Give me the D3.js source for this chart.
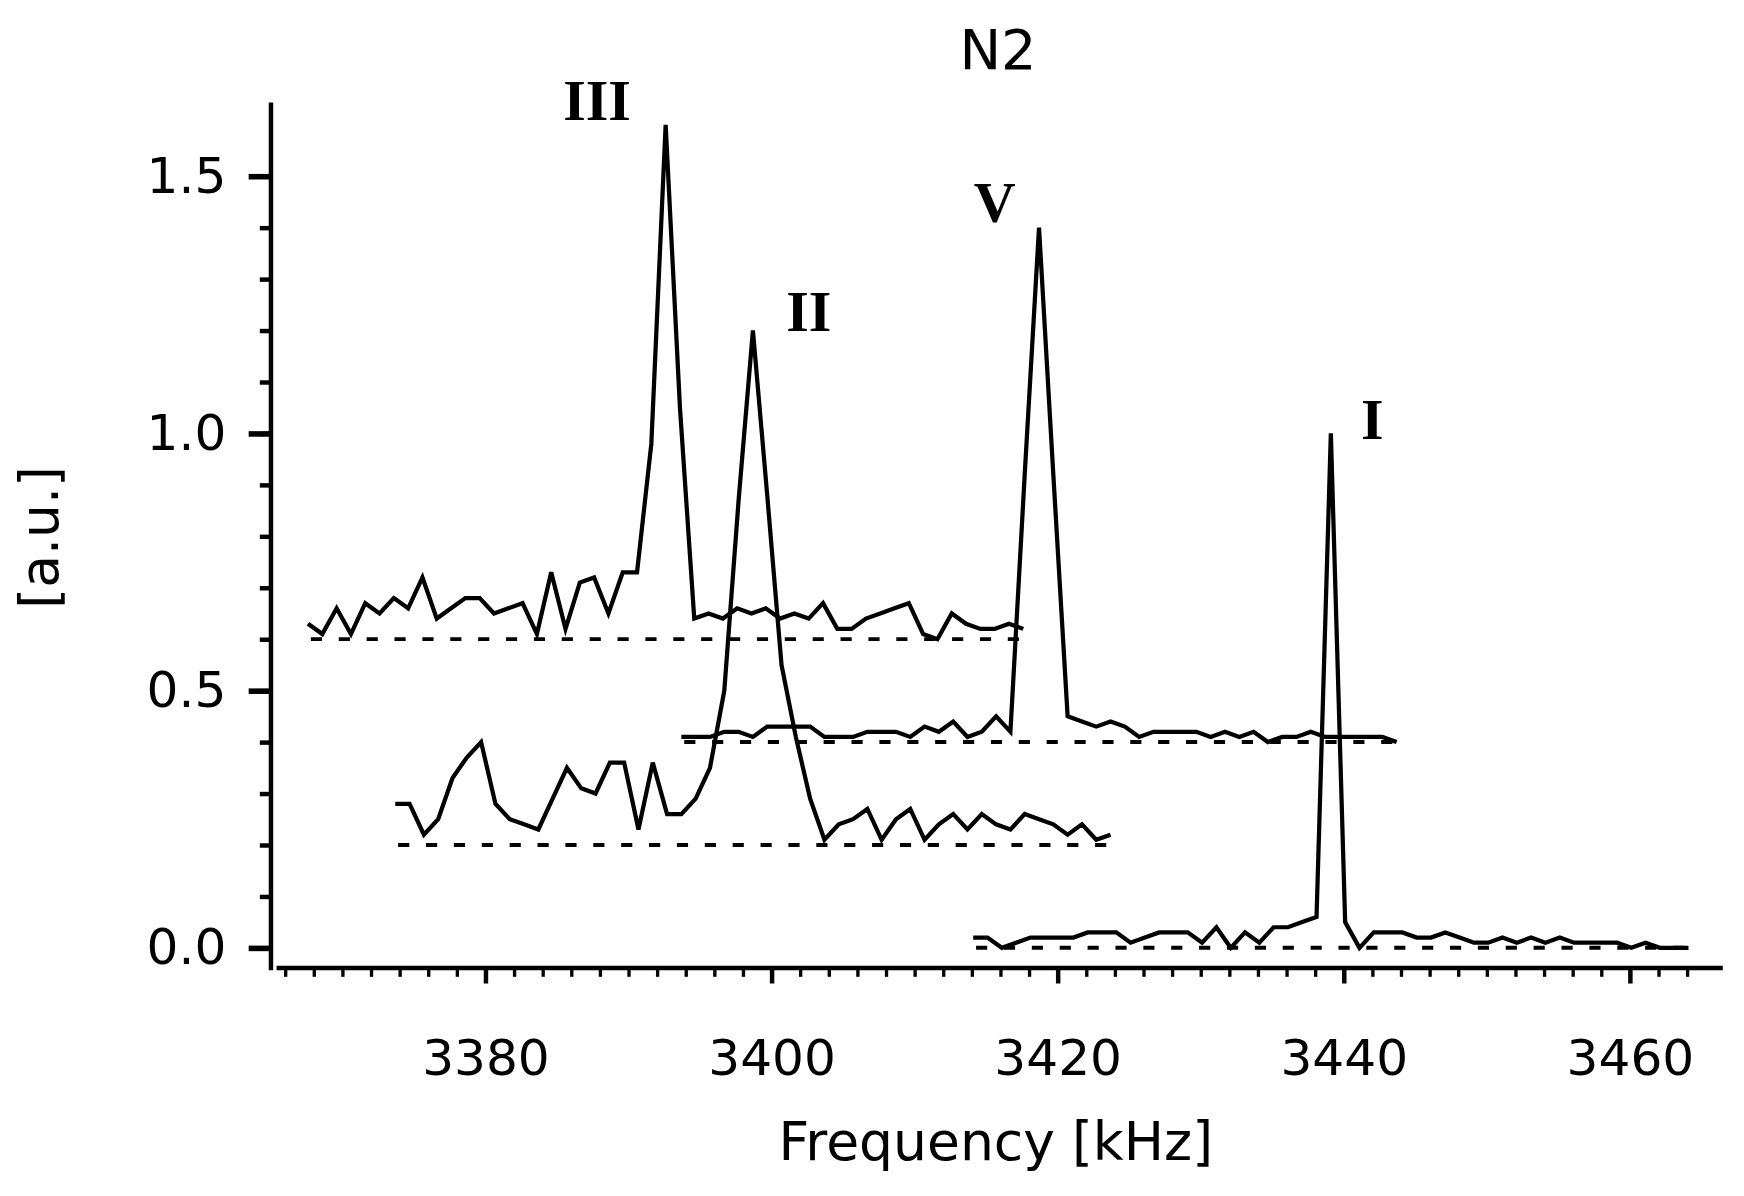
<!DOCTYPE html>
<html>
<head>
<meta charset="utf-8">
<script src="https://cdn.jsdelivr.net/npm/d3@7"></script>
<style>
  body { margin: 0; background: #fff; }
  text { font-family: "DejaVu Sans", sans-serif; fill: #000; }
</style>
</head>
<body>
<svg id="chart" width="1744" height="1196"></svg>
<script>
// each spectrum: start frequency (kHz), 1 kHz sampling, baseline offset, values
const stepKHz = 1;

const startIII = 3367.6;
const baseIII = 0.6;
const valuesIII = [0.63,0.61,0.66,0.61,0.67,0.65,0.68,0.66,0.72,0.64,0.66,0.68,0.68,0.65,0.66,0.67,0.61,0.73,0.62,0.71,
  0.72,0.65,0.73,0.73,0.98,1.60,1.05,0.64,0.65,0.64,0.66,0.65,0.66,0.64,0.65,0.64,0.67,0.62,0.62,0.64,
  0.65,0.66,0.67,0.61,0.60,0.65,0.63,0.62,0.62,0.63,0.62];

const startII = 3373.7;
const baseII = 0.2;
const valuesII = [0.28,0.28,0.22,0.25,0.33,0.37,0.40,0.28,0.25,0.24,0.23,0.29,0.35,0.31,0.30,0.36,0.36,0.23,0.36,0.26,
  0.26,0.29,0.35,0.50,0.87,1.20,0.88,0.55,0.41,0.29,0.21,0.24,0.25,0.27,0.21,0.25,0.27,0.21,0.24,0.26,
  0.23,0.26,0.24,0.23,0.26,0.25,0.24,0.22,0.24,0.21,0.22];

const startV = 3393.7;
const baseV = 0.4;
const valuesV = [0.41,0.41,0.41,0.42,0.42,0.41,0.43,0.43,0.43,0.43,0.41,0.41,0.41,0.42,0.42,0.42,0.41,0.43,0.42,0.44,
  0.41,0.42,0.45,0.42,0.92,1.40,0.92,0.45,0.44,0.43,0.44,0.43,0.41,0.42,0.42,0.42,0.42,0.41,0.42,0.41,
  0.42,0.40,0.41,0.41,0.42,0.41,0.41,0.41,0.41,0.41,0.40];

const startI = 3414.1;
const baseI = 0.0;
const valuesI = [0.02,0.02,0.00,0.01,0.02,0.02,0.02,0.02,0.03,0.03,0.03,0.01,0.02,0.03,0.03,0.03,0.01,0.04,0.00,0.03,
  0.01,0.04,0.04,0.05,0.06,1.00,0.05,0.00,0.03,0.03,0.03,0.02,0.02,0.03,0.02,0.01,0.01,0.02,0.01,0.02,
  0.01,0.02,0.01,0.01,0.01,0.01,0.00,0.01,0.00,0.00,0.00];

const peakLabels = ["III", "II", "V", "I"];
const peakLabelPos = [[3387.8, 1.61], [3402.6, 1.20], [3415.6, 1.41], [3442.0, 0.99]];
const xTicks = [3380, 3400, 3420, 3440, 3460];
const yTicks = [0.0, 0.5, 1.0, 1.5];

// layout was measured on a 1564 px wide copy, scale up to the real size
const k = 1744 / 1564;
const svg = d3.select('#chart').append('g').attr('transform', 'scale(' + k + ')');

const x = d3.scaleLinear().domain([3365.4, 3466.5]).range([248, 1545]);
const y = d3.scaleLinear().domain([0, 1.5]).range([850, 158]);

const spectra = [
  {start: startIII, base: baseIII, values: valuesIII},
  {start: startII, base: baseII, values: valuesII},
  {start: startV, base: baseV, values: valuesV},
  {start: startI, base: baseI, values: valuesI}
];

const line = d3.line()
    .x(function(d) { return x(d[0]); })
    .y(function(d) { return y(d[1]); });

spectra.forEach(function(s) {
  const pts = s.values.map((v, i) => [s.start + i * stepKHz, v]);
  const end = s.start + (s.values.length - 1) * stepKHz;
  svg.append('line')
      .attr('x1', x(s.start + 0.2)).attr('x2', x(end - 0.3))
      .attr('y1', y(s.base)).attr('y2', y(s.base))
      .attr('stroke', '#000').attr('stroke-width', 3.5)
      .attr('stroke-dasharray', '10,15');
  svg.append('path')
      .datum(pts)
      .attr('d', line)
      .attr('fill', 'none')
      .attr('stroke', '#000')
      .attr('stroke-width', 3.8)
      .attr('stroke-linejoin', 'miter');
});

// x axis
const xAxisY = 868;
svg.append('line').attr('x1', 248).attr('x2', 1545).attr('y1', xAxisY).attr('y2', xAxisY)
    .attr('stroke', '#000').attr('stroke-width', 4);
svg.append('g').attr('transform', 'translate(0,' + xAxisY + ')')
    .call(d3.axisBottom(x).tickValues(d3.range(3366, 3466, 2)).tickSize(8).tickFormat(''))
    .call(g => g.select('.domain').remove())
    .call(g => g.selectAll('line').attr('stroke-width', 3));
svg.append('g').attr('transform', 'translate(0,' + xAxisY + ')')
    .call(d3.axisBottom(x).tickValues(xTicks).tickSize(14).tickPadding(50).tickFormat(d3.format('d')))
    .call(g => g.select('.domain').remove())
    .call(g => g.selectAll('line').attr('stroke-width', 4))
    .call(g => g.selectAll('text').style('font-size', '45px').attr('font-family', '"DejaVu Sans", sans-serif'));

// y axis
const yAxisX = 243;
const yFull = d3.scaleLinear().domain([-0.039, 1.643]).range([868, 92]);
svg.append('line').attr('x1', yAxisX).attr('x2', yAxisX).attr('y1', 92).attr('y2', 870)
    .attr('stroke', '#000').attr('stroke-width', 4);
svg.append('g').attr('transform', 'translate(' + yAxisX + ',0)')
    .call(d3.axisLeft(yFull).tickValues(d3.range(0, 16).map(d => d / 10)).tickSize(10).tickFormat(''))
    .call(g => g.select('.domain').remove())
    .call(g => g.selectAll('line').attr('stroke-width', 4));
svg.append('g').attr('transform', 'translate(' + yAxisX + ',0)')
    .call(d3.axisLeft(yFull).tickValues(yTicks).tickSize(20).tickPadding(20).tickFormat(d3.format('.1f')))
    .call(g => g.select('.domain').remove())
    .call(g => g.selectAll('line').attr('stroke-width', 5))
    .call(g => g.selectAll('text').style('font-size', '45px').attr('font-family', '"DejaVu Sans", sans-serif'));

// peak labels
svg.selectAll('.plabel')
    .data(peakLabels)
    .enter()
    .append('text')
    .attr('x', (d, i) => x(peakLabelPos[i][0]))
    .attr('y', (d, i) => y(peakLabelPos[i][1]))
    .attr('text-anchor', 'middle')
    .style('font-family', '"Liberation Serif", serif')
    .style('font-weight', 'bold')
    .style('font-size', '52px')
    .text(d => d);

// titles
svg.append('text').attr('x', 895).attr('y', 62).attr('text-anchor', 'middle')
    .style('font-size', '50px').text('N2');
svg.append('text').attr('x', 893).attr('y', 1040).attr('text-anchor', 'middle')
    .style('font-size', '48px').text('Frequency [kHz]');
svg.append('text').attr('transform', 'translate(52,482) rotate(-90)').attr('text-anchor', 'middle')
    .style('font-size', '48px').text('[a.u.]');
</script>
</body>
</html>
